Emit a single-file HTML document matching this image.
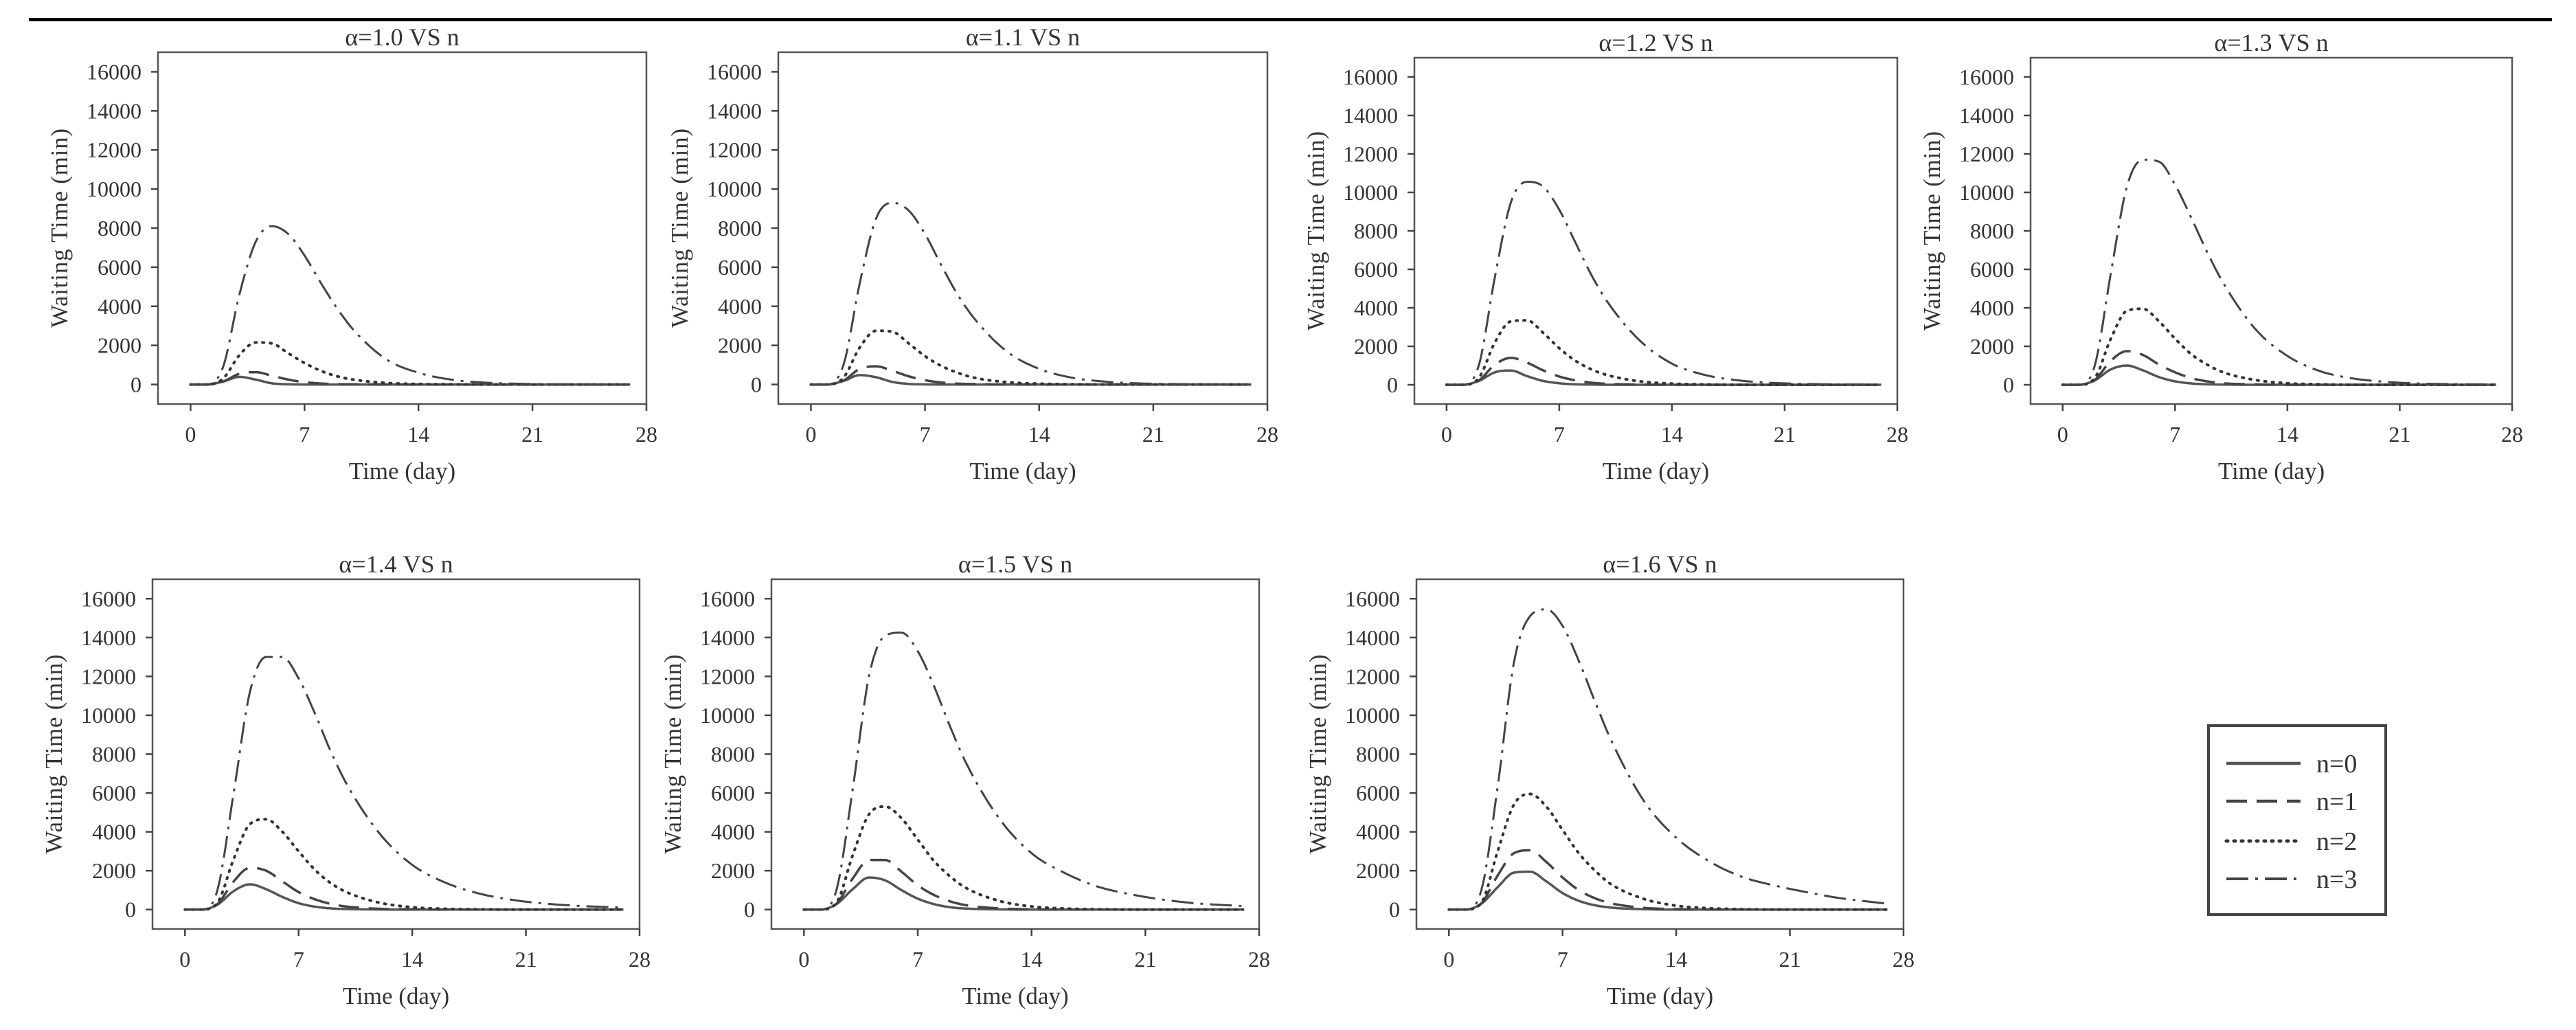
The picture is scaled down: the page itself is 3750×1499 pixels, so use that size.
<!DOCTYPE html>
<html><head><meta charset="utf-8">
<style>
html,body{margin:0;padding:0;background:#fff;}
svg{display:block;}
text{font-family:"Liberation Serif",serif;fill:#333;}
</style></head>
<body>
<svg id="fig" width="3750" height="1499" viewBox="0 0 3750 1499">
<rect x="42" y="26" width="3673" height="5" fill="#000"/>
</svg>
<script>
const days = [0,1,2,3,4,5,6,7,8,9,10,12,14,16,18,20,22,24,27];
const panelTitles = ["α=1.0 VS n","α=1.1 VS n","α=1.2 VS n","α=1.3 VS n","α=1.4 VS n","α=1.5 VS n","α=1.6 VS n"];
const seriesNames = ["n=0","n=1","n=2","n=3"];
const yTicks = [0,2000,4000,6000,8000,10000,12000,14000,16000];
const xTicks = [0,7,14,21,28];
const p1n0 = [0,0,150,390,250,60,10,0,0,0,0,0,0,0,0,0,0,0,0];
const p1n1 = [0,0,150,550,630,450,250,120,50,20,10,0,0,0,0,0,0,0,0];
const p1n2 = [0,0,300,1500,2150,2100,1600,1100,700,420,250,80,25,8,0,0,0,0,0];
const p1n3 = [0,0,900,4600,7300,8100,7700,6600,5200,3900,2800,1300,600,250,100,40,15,5,0];
const p2n0 = [0,0,180,480,370,130,30,5,0,0,0,0,0,0,0,0,0,0,0];
const p2n1 = [0,0,200,800,930,700,420,220,100,45,20,0,0,0,0,0,0,0,0];
const p2n2 = [0,0,350,1900,2750,2700,2100,1450,950,600,350,120,40,12,0,0,0,0,0];
const p2n3 = [0,0,1000,5200,8500,9300,8900,7700,6100,4600,3400,1700,800,350,150,60,25,10,0];
const p3n0 = [0,0,200,650,740,450,200,80,25,10,0,0,0,0,0,0,0,0,0];
const p3n1 = [0,0,220,1050,1400,1150,750,430,230,110,50,10,0,0,0,0,0,0,0];
const p3n2 = [0,0,350,2200,3300,3350,2700,1900,1250,800,500,180,60,20,0,0,0,0,0];
const p3n3 = [0,0,1000,5600,9500,10550,10300,9100,7400,5700,4300,2300,1100,520,240,110,50,25,10];
const p4n0 = [0,0,230,800,1000,750,400,180,70,25,10,0,0,0,0,0,0,0,0];
const p4n1 = [0,0,250,1250,1750,1550,1050,650,350,180,80,20,0,0,0,0,0,0,0];
const p4n2 = [0,0,350,2400,3850,3950,3300,2400,1600,1050,650,250,80,25,0,0,0,0,0];
const p4n3 = [0,0,1000,5800,10300,11700,11600,10400,8700,6900,5300,2900,1500,720,340,160,75,35,15];
const p5n0 = [0,0,250,950,1300,1050,650,330,150,60,25,5,0,0,0,0,0,0,0];
const p5n1 = [0,0,280,1450,2150,2000,1450,900,530,290,150,40,10,0,0,0,0,0,0];
const p5n2 = [0,0,350,2600,4400,4650,4000,3000,2050,1350,880,350,120,40,10,0,0,0,0];
const p5n3 = [0,0,1000,6000,11200,13000,13000,11900,10100,8100,6400,3900,2300,1400,850,520,320,200,100];
const p6n0 = [0,0,280,1050,1650,1500,1000,560,280,120,50,10,0,0,0,0,0,0,0];
const p6n1 = [0,0,300,1600,2550,2550,1950,1250,750,420,220,60,15,0,0,0,0,0,0];
const p6n2 = [0,0,350,2800,4900,5300,4700,3600,2500,1700,1100,450,160,55,15,0,0,0,0];
const p6n3 = [0,0,1000,6200,12000,14100,14250,13300,11500,9400,7500,4700,2900,1900,1200,800,520,330,180];
const p7n0 = [0,0,300,1150,1900,1950,1450,850,450,220,100,20,0,0,0,0,0,0,0];
const p7n1 = [0,0,320,1750,2900,3050,2450,1650,1000,580,320,90,25,0,0,0,0,0,0];
const p7n2 = [0,0,350,3000,5400,5950,5300,4100,2900,2000,1300,550,200,70,20,0,0,0,0];
const p7n3 = [0,0,1000,6300,12700,15100,15450,14600,12800,10700,8700,5600,3700,2500,1700,1250,900,600,300];
const panelData = [[p1n0,p1n1,p1n2,p1n3],[p2n0,p2n1,p2n2,p2n3],[p3n0,p3n1,p3n2,p3n3],[p4n0,p4n1,p4n2,p4n3],[p5n0,p5n1,p5n2,p5n3],[p6n0,p6n1,p6n2,p6n3],[p7n0,p7n1,p7n2,p7n3]];

const layout = [
 {x:230,y:76,w:711,h:512},{x:1133,y:76,w:712,h:512},{x:2059,y:84,w:703,h:504},{x:2956,y:84,w:701,h:504},
 {x:222,y:843,w:709,h:509},{x:1123,y:843,w:710,h:509},{x:2062,y:843,w:709,h:509}
];
const styles = [
 {stroke:"#555",w:3.5,dash:""},
 {stroke:"#444",w:3.5,dash:"30 14"},
 {stroke:"#333",w:4,dash:"2 9"},
 {stroke:"#444",w:3,dash:"32 10 4 10"}
];
const NS="http://www.w3.org/2000/svg";
const svg=document.getElementById('fig');
function mk(tag,attrs,parent){const e=document.createElementNS(NS,tag);for(const k in attrs)e.setAttribute(k,attrs[k]);(parent||svg).appendChild(e);return e;}

function monotone(xs,ys){
  const n=xs.length,d=[],m=new Array(n);
  for(let i=0;i<n-1;i++)d.push((ys[i+1]-ys[i])/(xs[i+1]-xs[i]));
  m[0]=d[0];m[n-1]=d[n-2];
  for(let i=1;i<n-1;i++){ m[i]=(d[i-1]*d[i]<=0)?0:(d[i-1]+d[i])/2; }
  for(let i=0;i<n-1;i++){ if(d[i]===0){m[i]=0;m[i+1]=0;continue;}
    const a=m[i]/d[i],b=m[i+1]/d[i],s=a*a+b*b; if(s>9){const t=3/Math.sqrt(s);m[i]=t*a*d[i];m[i+1]=t*b*d[i];}}
  const out=[];
  for(let i=0;i<n-1;i++){const h=xs[i+1]-xs[i];
    for(let k=0;k<10;k++){const t=k/10,t2=t*t,t3=t2*t;
      const v=(2*t3-3*t2+1)*ys[i]+(t3-2*t2+t)*h*m[i]+(-2*t3+3*t2)*ys[i+1]+(t3-t2)*h*m[i+1];
      out.push([xs[i]+t*h,Math.max(0,v)]);}}
  out.push([xs[n-1],ys[n-1]]);return out;
}

layout.forEach((L,pi)=>{
  const g=mk('g',{});
  
  
  const xS=v=>L.x+(v+2)/30*L.w;
  const yS=v=>L.y+L.h-(v+1000)/18000*L.h;
  const t=mk('text',{x:L.x+L.w/2,y:L.y-10,'text-anchor':'middle','font-size':36},g);
  t.textContent=panelTitles[pi];
  
  
  const box=mk('rect',{x:L.x,y:L.y,width:L.w,height:L.h,fill:'none',stroke:'#555','stroke-width':2.5},g);
  
  
  yTicks.forEach(v=>{
    const y=yS(v);
    mk('line',{x1:L.x-10,x2:L.x,y1:y,y2:y,stroke:'#444','stroke-width':2.5},g);
    const tl=mk('text',{x:L.x-24,y:y+11,'text-anchor':'end','font-size':32},g);
    tl.textContent=v;
    
    
  });
  xTicks.forEach(v=>{
    const x=xS(v);
    mk('line',{x1:x,x2:x,y1:L.y+L.h,y2:L.y+L.h+10,stroke:'#444','stroke-width':2.5},g);
    const tl=mk('text',{x:x,y:L.y+L.h+55,'text-anchor':'middle','font-size':32},g);
    tl.textContent=v;
    
    
  });
  const xt=mk('text',{x:L.x+L.w/2,y:L.y+L.h+109,'text-anchor':'middle','font-size':35},g);
  xt.textContent='Time (day)';
  
  
  const cy=yS(8000);
  const yt=mk('text',{x:0,y:0,'text-anchor':'middle','font-size':35,textLength:290,lengthAdjust:'spacing',transform:`translate(${L.x-132},${cy}) rotate(-90)`},g);
  yt.textContent='Waiting Time (min)';
  
  
  panelData[pi].forEach((vals,si)=>{
    const pts=monotone(days,vals);
    const d=pts.map((p,i)=>(i?'L':'M')+xS(p[0]).toFixed(1)+','+yS(p[1]).toFixed(1)).join('');
    const st=styles[si];
    const path=mk('path',{d:d,fill:'none',stroke:st.stroke,'stroke-width':st.w,'stroke-dasharray':st.dash,'stroke-linecap':si===2?'round':'butt'},g);
    
    
  });
});

const lg=mk('g',{});


const lb=mk('rect',{x:3215,y:1056,width:258,height:275,fill:'#fff',stroke:'#444','stroke-width':4},lg);


const legY=[1111,1166,1224,1279];
seriesNames.forEach((nm,si)=>{
  const st=styles[si];
  const ln=mk('line',{x1:3241,x2:3349,y1:legY[si],y2:legY[si],stroke:st.stroke,'stroke-width':st.w+1,'stroke-dasharray':st.dash,'stroke-linecap':si===2?'round':'butt'},lg);
  
  
  const tx=mk('text',{x:3372,y:legY[si]+13,'font-size':38},lg);
  tx.textContent=nm;
  
  
});
</script>
</body></html>
